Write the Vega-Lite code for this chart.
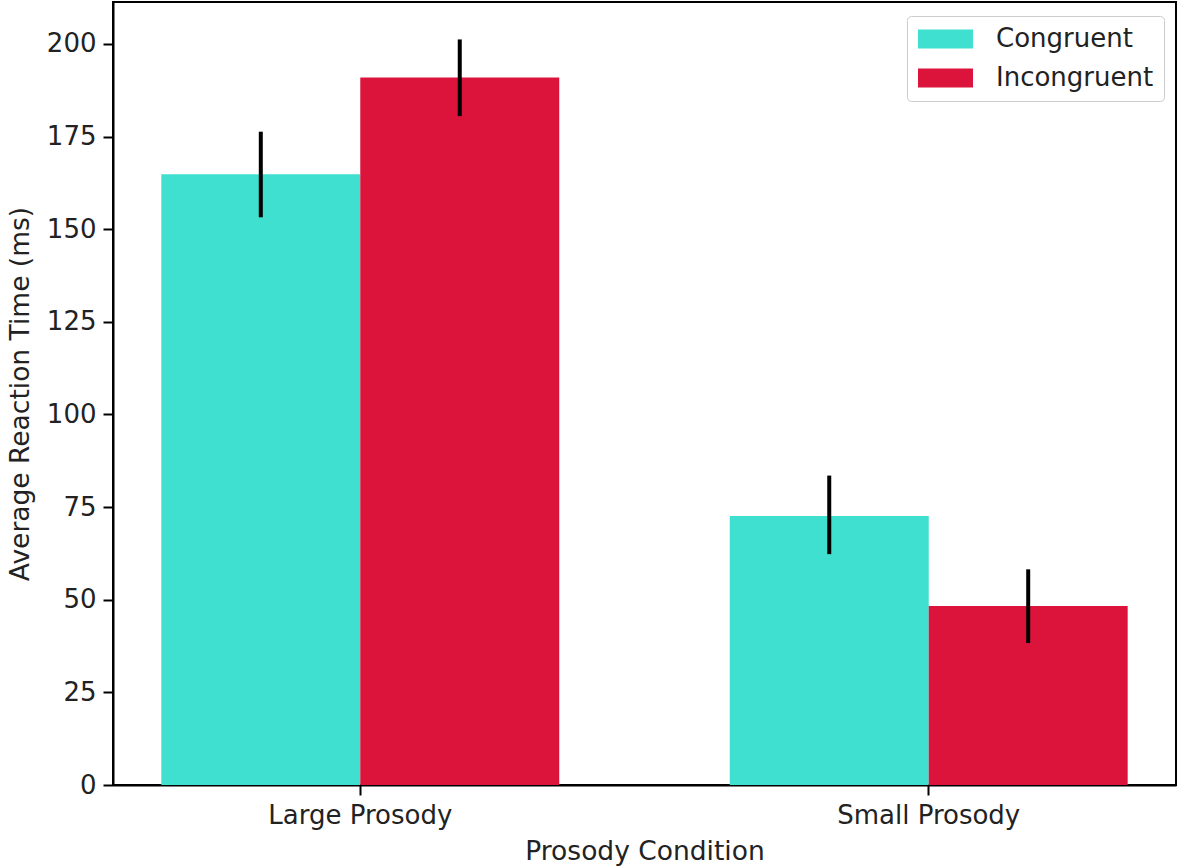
{
  "$schema": "https://vega.github.io/schema/vega-lite/v6.json",
  "autosize": "none",
  "width": 1063,
  "height": 783,
  "padding": {"left": 113, "top": 2, "right": 2, "bottom": 82},
  "background": "white",
  "config": {
    "font": "DejaVu Sans",
    "view": {"stroke": "black", "strokeWidth": 2},
    "axis": {
      "grid": false,
      "domainColor": "black",
      "domainWidth": 2,
      "tickColor": "black",
      "tickWidth": 2,
      "tickSize": 10,
      "labelFont": "DejaVu Sans",
      "labelFontSize": 26,
      "labelColor": "#222222",
      "labelPadding": 7,
      "labelLimit": 0,
      "titleFont": "DejaVu Sans",
      "titleFontSize": 26.5,
      "titleFontWeight": "normal",
      "titleColor": "#222222"
    },
    "legend": {
      "labelFont": "DejaVu Sans",
      "labelFontSize": 26,
      "labelColor": "#222222",
      "labelLimit": 0
    }
  },
  "data": {
    "values": [
      {"condition": "Large Prosody", "group": "Congruent", "mean": 164.8, "lower": 153.2, "upper": 176.3},
      {"condition": "Large Prosody", "group": "Incongruent", "mean": 190.9, "lower": 180.5, "upper": 201.2},
      {"condition": "Small Prosody", "group": "Congruent", "mean": 72.6, "lower": 62.3, "upper": 83.5},
      {"condition": "Small Prosody", "group": "Incongruent", "mean": 48.3, "lower": 38.3, "upper": 58.2}
    ]
  },
  "encoding": {
    "x": {
      "field": "condition",
      "type": "nominal",
      "sort": null,
      "scale": {"paddingInner": 0.3, "paddingOuter": 0.085},
      "axis": {"labelAngle": 0, "title": "Prosody Condition", "titlePadding": 10}
    },
    "xOffset": {
      "field": "group",
      "type": "nominal",
      "scale": {"domain": ["Congruent", "Incongruent"], "paddingInner": 0, "paddingOuter": 0}
    }
  },
  "layer": [
    {
      "mark": {"type": "bar"},
      "encoding": {
        "y": {
          "field": "mean",
          "type": "quantitative",
          "scale": {"domain": [0, 211.3], "nice": false, "zero": true},
          "axis": {"values": [0, 25, 50, 75, 100, 125, 150, 175, 200], "title": "Average Reaction Time (ms)", "titlePadding": 12}
        },
        "color": {
          "field": "group",
          "type": "nominal",
          "scale": {"domain": ["Congruent", "Incongruent"], "range": ["#40E0D0", "#DC143C"]},
          "legend": {
            "title": null,
            "orient": "none",
            "legendX": 794,
            "legendY": 14,
            "padding": 10,
            "fillColor": "white",
            "strokeColor": "#cccccc",
            "cornerRadius": 4,
            "symbolType": "M-1,-0.7917H3.5833V0.7917H-1Z",
            "symbolSize": 576,
            "symbolStrokeWidth": 0,
            "symbolOpacity": 1,
            "labelOffset": 53,
            "rowPadding": 13
          }
        }
      }
    },
    {
      "mark": {"type": "rule", "color": "black", "strokeWidth": 4},
      "encoding": {
        "y": {"field": "lower", "type": "quantitative"},
        "y2": {"field": "upper"}
      }
    }
  ]
}
